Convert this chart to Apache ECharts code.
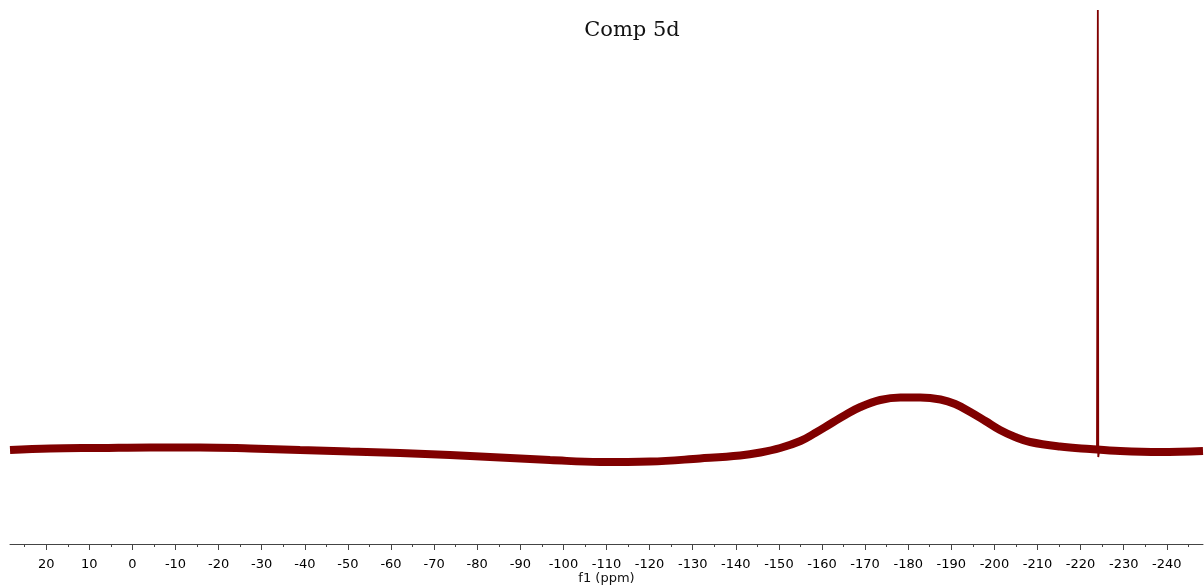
<!DOCTYPE html>
<html>
<head>
<meta charset="utf-8">
<script src="https://cdn.jsdelivr.net/npm/echarts@6/dist/echarts.min.js"></script>
<style>
html,body{margin:0;padding:0;background:#fff;}
#chart{width:1204px;height:588px;}
</style>
</head>
<body>
<div id="chart"></div>
<script>
// Chemical shift (ppm) and intensity (arbitrary units) of the broad spectrum envelope
var shiftPpm = [28.4, 19.1, 7.5, -4.1, -15.7, -27.4, -38.9, -50.5, -62.1, -73.7, -85.3, -96.9, -108.5, -120.1, -131.7, -141.0, -145.7, -150.3, -155.0, -158.4, -161.9, -165.4, -168.9, -173.5, -178.2, -182.8, -187.5, -190.9, -194.4, -197.9, -201.3, -204.8, -208.3, -215.2, -222.2, -229.2, -238.4, -248.4];
var intensity = [0, 1.5, 2, 2.5, 2.5, 1.5, 0, -1.5, -3, -5, -7.5, -10, -12, -11.5, -8.5, -5.5, -2.5, 2, 9, 17, 26, 35, 43, 50, 52.5, 52.5, 50.5, 46, 38, 29, 20, 13, 8, 3.5, 1, -1, -2, -1];
// Sharp signal
var peakPpm = [-223.8, -224.0, -224.1, -224.3];
var peakIntensity = [1, 440, -7, -1];
// Axis ticks
var majorTicks = [20, 10, 0, -10, -20, -30, -40, -50, -60, -70, -80, -90, -100, -110, -120, -130, -140, -150, -160, -170, -180, -190, -200, -210, -220, -230, -240];
var minorTicks = [25, 15, 5, -5, -15, -25, -35, -45, -55, -65, -75, -85, -95, -105, -115, -125, -135, -145, -155, -165, -175, -185, -195, -205, -215, -225, -235, -245];
var titleText = 'Comp 5d';
var axisName = 'f1 (ppm)';

var envelope = shiftPpm.map(function (p, i) { return [p, intensity[i]]; });
var peak = peakPpm.map(function (p, i) { return [p, peakIntensity[i]]; });

var chart = echarts.init(document.getElementById('chart'), null, {renderer: 'canvas'});
var lineColor = '#800000';
var font = 'DejaVu Sans';
chart.setOption({
  animation: false,
  backgroundColor: '#ffffff',
  title: {
    text: titleText,
    left: 632,
    top: 20,
    padding: 0,
    textAlign: 'center',
    textStyle: {fontFamily: 'DejaVu Serif', fontSize: 21, fontWeight: 'normal', color: '#111'}
  },
  grid: {left: 10, right: 1, top: 10, bottom: 44, containLabel: false, outerBoundsMode: 'none'},
  xAxis: [{
    type: 'value',
    inverse: true,
    min: -248.4,
    max: 28.4,
    name: axisName,
    nameLocation: 'middle',
    nameGap: 28,
    nameMoveOverlap: false,
    nameTextStyle: {fontFamily: font, fontSize: 13, color: '#111'},
    axisLine: {show: true, onZero: false, lineStyle: {color: '#444', width: 1}},
    axisTick: {show: true, length: 6, customValues: majorTicks, lineStyle: {color: '#444'}},
    axisLabel: {customValues: majorTicks, fontFamily: font, fontSize: 13, color: '#000', margin: 14},
    splitLine: {show: false}
  }, {
    type: 'value',
    inverse: true,
    min: -248.4,
    max: 28.4,
    position: 'bottom',
    axisLine: {show: false, onZero: false},
    axisTick: {show: true, length: 3, customValues: minorTicks, lineStyle: {color: '#444'}},
    axisLabel: {show: false},
    splitLine: {show: false}
  }],
  yAxis: {
    type: 'value',
    min: -94,
    max: 440,
    show: false,
    splitLine: {show: false}
  },
  series: [{
    type: 'line',
    data: envelope,
    smooth: 0.4,
    showSymbol: false,
    lineStyle: {color: lineColor, width: 8},
    z: 2
  }, {
    type: 'line',
    data: peak,
    showSymbol: false,
    lineStyle: {color: lineColor, width: 1.8},
    z: 3
  }]
});
</script>
</body>
</html>
